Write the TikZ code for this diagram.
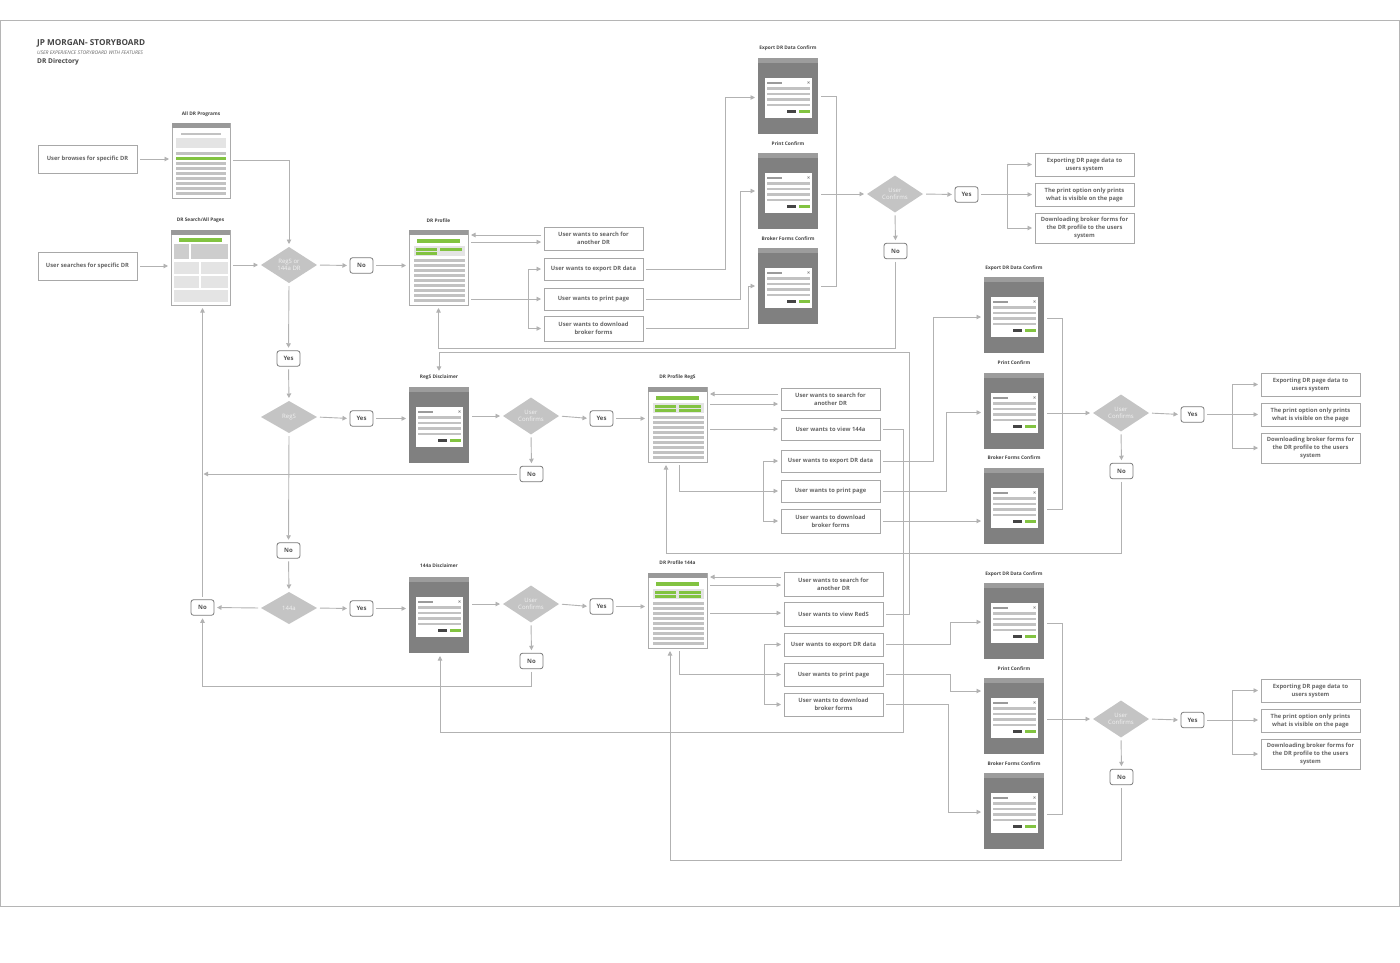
\documentclass[tikz,border=0pt]{standalone}
\usepackage{fontspec}
\setmainfont{Open Sans}
\usetikzlibrary{shapes.geometric,arrows.meta}
\definecolor{lc}{HTML}{B2B2B2}
\definecolor{bc}{HTML}{A8A8A8}
\definecolor{tc}{HTML}{666666}
\definecolor{ync}{HTML}{7A7A7A}
\definecolor{ynt}{HTML}{555555}
\definecolor{dfc}{HTML}{C4C4C4}
\definecolor{dtc}{HTML}{F2F2F2}
\definecolor{lbc}{HTML}{444444}
\definecolor{mbc}{HTML}{ABABAB}
\definecolor{mtop}{HTML}{999999}
\definecolor{mln}{HTML}{C2C2C2}
\definecolor{mlt}{HTML}{E4E4E4}
\definecolor{mmid}{HTML}{CDCDCD}
\definecolor{gc}{HTML}{82C341}
\definecolor{mdc}{HTML}{808080}
\definecolor{mdtop}{HTML}{9C9C9C}
\definecolor{dbtn}{HTML}{444444}
\definecolor{frc}{HTML}{B5B5B5}
\tikzset{
 ln/.style={draw=lc, line width=0.9pt, shorten <=3pt, shorten >=3pt},
 arr/.style={ln, -{Triangle[length=4.5pt,width=4.5pt]}},
 arrj/.style={draw=lc, line width=0.9pt, shorten >=3pt, -{Triangle[length=4.5pt,width=4.5pt]}},
 lnj/.style={draw=lc, line width=0.9pt},
 tbox/.style={draw=bc, line width=0.8pt, fill=white, minimum width=99pt, minimum height=23pt, inner sep=1pt, align=center, text=tc, font=\fontsize{5.8}{8}\selectfont\bfseries, outer sep=0pt},
 yn/.style={draw=ync, line width=0.8pt, rounded corners=2.5pt, minimum width=23pt, minimum height=15.5pt, inner sep=0pt, text=ynt, font=\fontsize{6}{7}\selectfont\bfseries, outer sep=0pt},
 dia/.style={diamond, fill=dfc, minimum width=56pt, minimum height=32pt, inner sep=0pt, align=center, text=dtc, font=\fontsize{6}{7}\selectfont, outer sep=0pt},
 mlabel/.style={font=\fontsize{4.8}{5}\selectfont\bfseries, text=lbc, inner sep=0.5pt},
 pagebox/.style={draw=mbc, line width=0.8pt, fill=white, minimum width=59pt, minimum height=75pt, inner sep=0pt, outer sep=0pt},
 modalbox/.style={fill=mdc, minimum width=60pt, minimum height=76pt, inner sep=0pt, outer sep=0pt},
}
\newcommand{\profmock}[4]{%
 \node[pagebox] (#1) at ({#2+29.5},{#3+37.5}) {};
 \begin{scope}[shift={(#2,#3)}]
  \fill[mtop] (0,0) rectangle (59,5);
  \fill[gc] (8,9) rectangle (51,13);
  \fill[mlt] (5,16) rectangle (56,26);
  \fill[gc] (7,17.5) rectangle (28,20.5);
  \fill[gc] (31,17.5) rectangle (53,20.5);
  \fill[gc] (7,22) rectangle (28,25);
  \ifnum#4=2 \fill[gc] (31,22) rectangle (53,25);\fi
  \foreach \k in {0,...,8} \fill[mln] (5,{29+5*\k}) rectangle (56,{31.5+5*\k});
 \end{scope}}
\newcommand{\modalmock}[3]{%
 \node[modalbox] (#1) at ({#2+30},{#3+38}) {};
 \begin{scope}[shift={(#2,#3)}]
  \fill[mdtop] (0,0) rectangle (60,5);
  \fill[white] (7,20) rectangle (54,60);
  \fill[mln!80!black] (9,24) rectangle (24,26);
  \draw[mln!70!black, line width=0.4pt] (49.5,23.5) -- (51.5,25.5) (49.5,25.5) -- (51.5,23.5);
  \foreach \yy in {29,34.5,40,45.5} \fill[mln] (9,\yy) rectangle (52,\yy+2.6);
  \fill[dbtn] (29,52) rectangle (38,54.5);
  \fill[gc] (41,52) rectangle (52,54.5);
 \end{scope}}
\begin{document}
\begin{tikzpicture}[x=1pt,y=-1pt]
\useasboundingbox (0,0) rectangle (1400,962);
\fill[white] (0,0) rectangle (1400,962);
\draw[frc, line width=1pt] (0.5,20) rectangle (1399.5,906);
% titles
\node[anchor=west, inner sep=0pt, font=\fontsize{8.2}{9}\selectfont\bfseries, text=lbc] (t1) at (37,43) {JP MORGAN- STORYBOARD};
\node[anchor=west, inner sep=0pt, font=\fontsize{5}{6}\selectfont\itshape, text=tc] (t2) at (37,52.5) {USER EXPERIENCE STORYBOARD WITH FEATURES};
\node[anchor=west, inner sep=0pt, font=\fontsize{6.6}{7}\selectfont\bfseries, text=lbc] (t3) at (37,62) {DR Directory};
\coordinate (c348) at (0,348);
\coordinate (c352) at (0,352);
\coordinate (c553) at (0,553);
\coordinate (c686) at (0,686);
\coordinate (c732) at (0,732);
\coordinate (c860) at (0,860);
% ---------- left column
\node[tbox, minimum height=28pt] (bro) at (87.5,159) {User browses for specific DR};
\node[tbox, minimum height=28pt] (sea) at (87.5,266) {User searches for specific DR};
% All DR programs mock
\node[pagebox, minimum width=58pt] (allp) at (201,160.5) {};
\begin{scope}[shift={(172,123)}]
 \fill[mtop] (0,0) rectangle (58,5);
 \fill[mln] (9,10) rectangle (49,11.8);
 \fill[mlt] (4,15) rectangle (54,25);
 \foreach \k in {0,...,8} \fill[mln] (4,{29+5*\k}) rectangle (54,{31.5+5*\k});
 \fill[gc] (4,34) rectangle (54,36.5);
\end{scope}
\node[mlabel] (allpl) at (201,114) {All DR Programs};
% DR search mock
\node[pagebox] (srch) at (200.5,267.5) {};
\begin{scope}[shift={(171,230)}]
 \fill[mtop] (0,0) rectangle (59,5);
 \fill[gc] (8,8) rectangle (51,12);
 \fill[mmid] (2.5,14) rectangle (18,29);
 \fill[mmid] (20,14) rectangle (56.5,29);
 \fill[mlt] (2.5,32) rectangle (28,44);
 \fill[mlt] (30,32) rectangle (56.5,44);
 \fill[mlt] (2.5,46) rectangle (28,58);
 \fill[mlt] (30,46) rectangle (56.5,58);
 \fill[mlt] (2.5,60) rectangle (56.5,71.5);
\end{scope}
\node[mlabel] (srchl) at (200.5,220) {DR Search/All Pages};
% ---------- row 1
\node[dia, minimum height=36pt] (d1) at (289,265) {RegS or\\144a DR};
\node[yn] (no1) at (361.5,265.5) {No};
\profmock{prof}{409}{230}{1}
\node[mlabel] (profl) at (438.5,221) {DR Profile};
\node[tbox] (o1a) at (593.5,238.5) {User wants to search for\\another DR};
\node[tbox, minimum height=22pt] (o1b) at (593.5,269) {User wants to export DR data};
\node[tbox, minimum height=22pt] (o1c) at (593.5,299) {User wants to print page};
\node[tbox, minimum height=25pt] (o1d) at (593.5,328.5) {User wants to download\\broker forms};
\modalmock{ex1}{758}{58}
\modalmock{pr1}{758}{153}
\modalmock{bk1}{758}{248}
\node[mlabel] (ex1l) at (788,48) {Export DR Data Confirm};
\node[mlabel] (pr1l) at (788,144) {Print Confirm};
\node[mlabel] (bk1l) at (788,239) {Broker Forms Confirm};
\node[dia] (uc1) at (895,194) {User\\Confirms};
\node[yn] (yes1) at (966.5,194.5) {Yes};
\node[yn] (no1t) at (895.5,251) {No};
\node[tbox] (r1a) at (1084.5,164.5) {Exporting DR page data to\\users system};
\node[tbox] (r1b) at (1084.5,194.5) {The print option only prints\\what is visible on the page};
\node[tbox, minimum height=30pt] (r1c) at (1084.5,228) {Downloading broker forms for\\the DR profile to the users\\system};
\node[yn] (yesm) at (288.5,358.5) {Yes};
% ---------- row 2
\node[dia] (d2) at (289,417) {RegS};
\node[yn] (yes2a) at (361.5,418.5) {Yes};
\modalmock{disc2}{409}{387}
\node[mlabel] (disc2l) at (439,377) {RegS Disclaimer};
\node[dia] (uc2) at (531,416) {User\\Confirms};
\node[yn] (yes2b) at (601.5,418.5) {Yes};
\node[yn] (no2) at (531.5,474) {No};
\profmock{profS}{648}{387}{2}
\node[mlabel] (profSl) at (677.5,377) {DR Profile RegS};
\node[tbox, minimum height=22pt] (o2a) at (830.5,399) {User wants to search for\\another DR};
\node[tbox, minimum height=22pt] (o2b) at (830.5,429) {User wants to view 144a};
\node[tbox, minimum height=22pt] (o2c) at (830.5,461) {User wants to export DR data};
\node[tbox, minimum height=22pt] (o2d) at (830.5,491) {User wants to print page};
\node[tbox, minimum height=24pt] (o2e) at (830.5,521) {User wants to download\\broker forms};
\modalmock{ex2}{984}{277}
\modalmock{pr2}{984}{373}
\modalmock{bk2}{984}{468}
\node[mlabel] (ex2l) at (1014,268) {Export DR Data Confirm};
\node[mlabel] (pr2l) at (1014,363) {Print Confirm};
\node[mlabel] (bk2l) at (1014,458) {Broker Forms Confirm};
\node[dia] (uc2b) at (1121,413) {User\\Confirms};
\node[yn] (yes2c) at (1192.5,414.5) {Yes};
\node[yn] (no2c) at (1121.5,471) {No};
\node[tbox] (r2a) at (1310.5,384.5) {Exporting DR page data to\\users system};
\node[tbox] (r2b) at (1310.5,414.5) {The print option only prints\\what is visible on the page};
\node[tbox, minimum height=30pt] (r2c) at (1310.5,448) {Downloading broker forms for\\the DR profile to the users\\system};
\node[yn] (nomid) at (288.5,550.5) {No};
% ---------- row 3
\node[dia] (d3) at (289,608) {144a};
\node[yn] (no3a) at (202.5,607.5) {No};
\node[yn] (yes3a) at (361.5,608.5) {Yes};
\modalmock{disc3}{409}{577}
\node[mlabel] (disc3l) at (439,566) {144a Disclaimer};
\node[dia] (uc3) at (531,604) {User\\Confirms};
\node[yn] (yes3b) at (601.5,606.5) {Yes};
\node[yn] (no3b) at (531.5,661) {No};
\profmock{profA}{648}{573}{2}
\node[mlabel] (profAl) at (677.5,563) {DR Profile 144a};
\node[tbox, minimum height=24pt] (o3a) at (833.5,584) {User wants to search for\\another DR};
\node[tbox, minimum height=24pt] (o3b) at (833.5,614) {User wants to view RedS};
\node[tbox] (o3c) at (833.5,644.5) {User wants to export DR data};
\node[tbox] (o3d) at (833.5,674.5) {User wants to print page};
\node[tbox] (o3e) at (833.5,704.5) {User wants to download\\broker forms};
\modalmock{ex3}{984}{583}
\modalmock{pr3}{984}{678}
\modalmock{bk3}{984}{773}
\node[mlabel] (ex3l) at (1014,574) {Export DR Data Confirm};
\node[mlabel] (pr3l) at (1014,669) {Print Confirm};
\node[mlabel] (bk3l) at (1014,764) {Broker Forms Confirm};
\node[dia] (uc3b) at (1121,719) {User\\Confirms};
\node[yn] (yes3c) at (1192.5,720) {Yes};
\node[yn] (no3c) at (1121.5,777) {No};
\node[tbox] (r3a) at (1310.5,690.5) {Exporting DR page data to\\users system};
\node[tbox] (r3b) at (1310.5,720.5) {The print option only prints\\what is visible on the page};
\node[tbox, minimum height=30pt] (r3c) at (1310.5,754) {Downloading broker forms for\\the DR profile to the users\\system};
% ================= connectors
% left
\draw[arr] (bro.east) -- (allp.west |- bro.east);
\draw[arr] (sea.east) -- (srch.west |- sea.east);
\draw[arr] (allp.east) -| (d1.north);
\draw[arr] (srch.east |- d1.west) -- (d1.west);
\draw[arr] (d1.east) -- (no1.west);
\draw[arr] (no1.east) -- (prof.west |- no1.east);
\draw[arr] (d1.south) -- (yesm.north);
\draw[arr] (yesm.south) -- (d2.north);
% row1 options
\draw[arr] ([yshift=3.5pt]o1a.west) -- ([yshift=3.5pt]o1a.west -| prof.east);
\draw[arr] ([yshift=-3.5pt]o1a.west -| prof.east) -- ([yshift=-3.5pt]o1a.west);
\draw[arr] (prof.east |- o1c.west) -- (o1c.west);
\draw[lnj] ([xshift=-16pt]o1b.west) -- ([xshift=-16pt]o1d.west);
\draw[arrj] ([xshift=-16pt]o1b.west) -- (o1b.west);
\draw[arrj] ([xshift=-16pt]o1d.west) -- (o1d.west);
\draw[arr] (o1b.east) -- ++(82,0) |- ([yshift=-1.5pt]ex1.west);
\draw[arr] (o1c.east) -- ++(97,0) |- (pr1.west);
\draw[arr] (o1d.east) -- ++(105,0) |- (bk1.west);
\draw[ln] (ex1.east) -- ++(18,0) |- (bk1.east);
\draw[arr] (pr1.east |- uc1.west) -- (uc1.west);
\draw[arr] (uc1.east) -- (yes1.west);
\draw[arr] (yes1.east) -- (r1b.west |- yes1.east);
\draw[lnj] ([xshift=-28pt]r1a.west) -- ([xshift=-28pt]r1c.west);
\draw[arrj] ([xshift=-28pt]r1a.west) -- (r1a.west);
\draw[arrj] ([xshift=-28pt]r1c.west) -- (r1c.west);
\draw[arr] (uc1.south) -- (no1t.north);
\draw[arr] (no1t.south) -- (no1t.south |- c348) -- (prof.south |- c348) -- (prof.south);
% row2
\draw[arr] (d2.east) -- (yes2a.west);
\draw[arr] (yes2a.east) -- (disc2.west |- yes2a.east);
\draw[arr] (disc2.east |- uc2.west) -- (uc2.west);
\draw[arr] (uc2.east) -- (yes2b.west);
\draw[arr] (yes2b.east) -- (profS.west |- yes2b.east);
\draw[arr] (uc2.south) -- (no2.north);
\draw[arr] (no2.west) -- (srch.south |- no2.west);
\draw[arr] (d2.south) -- (nomid.north);
\draw[arr] (nomid.south) -- (d3.north);
\draw[arr] ([yshift=5pt]o2a.west) -- ([yshift=5pt]o2a.west -| profS.east);
\draw[arr] ([yshift=-5pt]o2a.west -| profS.east) -- ([yshift=-5pt]o2a.west);
\draw[arr] (profS.east |- o2b.west) -- (o2b.west);
\draw[lnj] ([xshift=-18pt]o2c.west) -- ([xshift=-18pt]o2e.west);
\draw[arrj] ([xshift=-18pt]o2c.west) -- (o2c.west);
\draw[arrj] ([xshift=-18pt]o2e.west) -- (o2e.west);
\draw[arr] ([xshift=1.5pt]profS.south) |- (o2d.west);
\draw[arr] (o2c.east) -- ++(53,0) |- ([yshift=-2pt]ex2.west);
\draw[arr] (o2d.east) -- ++(66,0) |- ([yshift=-1.5pt]pr2.west);
\draw[arr] (o2e.east) -- (bk2.west |- o2e.east);
\draw[ln] ([yshift=-3pt]ex2.east) -- ++(18,0) |- ([yshift=-3pt]bk2.east);
\draw[arr] (pr2.east |- uc2b.west) -- (uc2b.west);
\draw[arr] (uc2b.east) -- (yes2c.west);
\draw[arr] (yes2c.east) -- (r2b.west |- yes2c.east);
\draw[lnj] ([xshift=-29pt]r2a.west) -- ([xshift=-29pt]r2c.west);
\draw[arrj] ([xshift=-29pt]r2a.west) -- (r2a.west);
\draw[arrj] ([xshift=-29pt]r2c.west) -- (r2c.west);
\draw[arr] (uc2b.south) -- (no2c.north);
\draw[arr] (no2c.south) -- (no2c.south |- c553) -- ([xshift=-11.5pt]profS.south |- c553) -- ([xshift=-11.5pt]profS.south);
\draw[arr] (o2b.east) -- ++(23,0) |- ([xshift=1pt]disc3.south |- c732) -- ([xshift=1pt]disc3.south);
% row3
\draw[arr] (d3.west) -- (no3a.east);
\draw[arr] (no3a.north) -- (no3a.north |- srch.south);
\draw[arr] (d3.east) -- (yes3a.west);
\draw[arr] (yes3a.east) -- (disc3.west |- yes3a.east);
\draw[arr] (disc3.east |- uc3.west) -- (uc3.west);
\draw[arr] (uc3.east) -- (yes3b.west);
\draw[arr] (yes3b.east) -- (profA.west |- yes3b.east);
\draw[arr] (uc3.south) -- (no3b.north);
\draw[arr] (no3b.south) -- (no3b.south |- c686) -- (no3a.south |- c686) -- (no3a.south);
\draw[arr] ([yshift=7pt]o3a.west) -- ([yshift=7pt]o3a.west -| profA.east);
\draw[arr] ([yshift=-1pt]o3a.west -| profA.east) -- ([yshift=-1pt]o3a.west);
\draw[arr] ([yshift=1pt]o3b.west -| profA.east) -- ([yshift=1pt]o3b.west);
\draw[lnj] ([xshift=-20pt]o3c.west) -- ([xshift=-20pt]o3e.west);
\draw[arrj] ([xshift=-20pt]o3c.west) -- (o3c.west);
\draw[arrj] ([xshift=-20pt]o3e.west) -- (o3e.west);
\draw[arr] ([xshift=1.5pt]profA.south) |- (o3d.west);
\draw[arr] (o3c.east) -- ++(67,0) |- ([yshift=-1pt]ex3.west);
\draw[arr] (o3d.east) -- ++(67,0) |- ([yshift=25pt]pr3.west);
\draw[arr] (o3e.east) -- ++(65,0) |- ([yshift=-1pt]bk3.west);
\draw[ln] ([yshift=-2pt]ex3.east) -- ++(18,0) |- ([yshift=-3pt]bk3.east);
\draw[arr] (pr3.east |- uc3b.west) -- (uc3b.west);
\draw[arr] (uc3b.east) -- (yes3c.west);
\draw[arr] (yes3c.east) -- (r3b.west |- yes3c.east);
\draw[lnj] ([xshift=-29pt]r3a.west) -- ([xshift=-29pt]r3c.west);
\draw[arrj] ([xshift=-29pt]r3a.west) -- (r3a.west);
\draw[arrj] ([xshift=-29pt]r3c.west) -- (r3c.west);
\draw[arr] (uc3b.south) -- (no3c.north);
\draw[arr] (no3c.south) -- (no3c.south |- c860) -- ([xshift=-7.5pt]profA.south |- c860) -- ([xshift=-7.5pt]profA.south);
\draw[arr] (o3b.east) -- ++(26,0) |- (disc2l.north |- c352) -- (disc2l.north);
\end{tikzpicture}
\end{document}
